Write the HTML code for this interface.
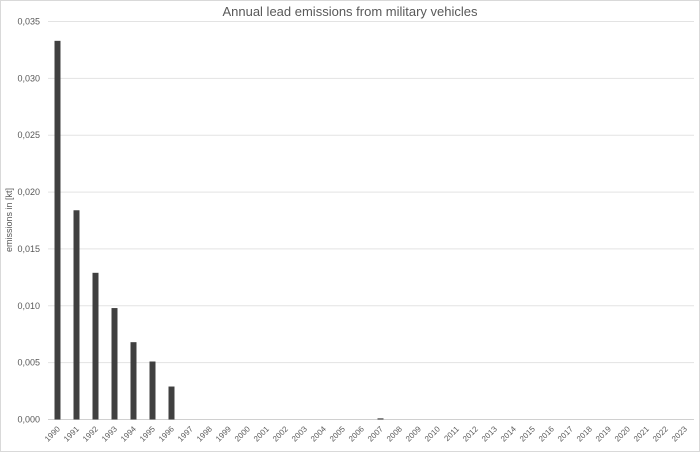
<!DOCTYPE html>
<html><head><meta charset="utf-8"><style>
html,body{margin:0;padding:0;background:#fff;}
svg{display:block;font-family:"Liberation Sans",sans-serif;}
</style></head><body>
<svg id="chart" width="700" height="452">
<rect x="0.5" y="0.5" width="699" height="451" fill="#fff" stroke="#d9d9d9"/>
<text x="350" y="16" text-anchor="middle" font-size="13" fill="#595959">Annual lead emissions from military vehicles</text>
<text transform="translate(12,220) rotate(-90)" text-anchor="middle" font-size="9" fill="#595959">emissions in [kt]</text>
<g id="grid"></g><g id="bars"></g><g id="xlabels"></g>
</svg>
<script>
const categories=[];for(let y=1990;y<=2023;y++)categories.push(String(y));
const values=[0.0333,0.0184,0.0129,0.0098,0.0068,0.0051,0.0029,0,0,0,0,0,0,0,0,0,0,0.0001,0,0,0,0,0,0,0,0,0,0,0,0,0,0,0,0];
const yTicks=[0,0.005,0.010,0.015,0.020,0.025,0.030,0.035];
const yTickLabels=["0,000","0,005","0,010","0,015","0,020","0,025","0,030","0,035"];
const ns="http://www.w3.org/2000/svg";
const L=48,R=694,T=21.5,B=419.5,yMax=0.035;
const bw=(R-L)/categories.length;
const yS=v=>B-(v/yMax)*(B-T);
const xS=i=>L+bw*(i+0.5);
const grid=document.getElementById('grid'),bars=document.getElementById('bars'),xl=document.getElementById('xlabels');
yTicks.forEach((t,i)=>{
 const ln=document.createElementNS(ns,'line');
 ln.setAttribute('x1',L);ln.setAttribute('x2',R);ln.setAttribute('y1',yS(t));ln.setAttribute('y2',yS(t));
 ln.setAttribute('stroke',i===0?'#d0d0d0':'#e3e3e3');ln.setAttribute('stroke-width','1');
 
 
 grid.appendChild(ln);
 const tx=document.createElementNS(ns,'text');
 tx.setAttribute('x',40);tx.setAttribute('y',yS(t)+3);tx.setAttribute('text-anchor','end');
 tx.setAttribute('font-size','9');tx.setAttribute('fill','#595959');tx.textContent=yTickLabels[i];
 
 
 grid.appendChild(tx);
});
categories.forEach((c,i)=>{
 const v=values[i];
 if(v>0){
  const r=document.createElementNS(ns,'rect');
  const h=Math.max(1,B-yS(v));
  r.setAttribute('x',xS(i)-3);r.setAttribute('width',6);r.setAttribute('y',B-h);r.setAttribute('height',h);
  r.setAttribute('fill','#404040');
  
  
  bars.appendChild(r);
 }
 const tx=document.createElementNS(ns,'text');
 const x=xS(i)+3,y=B+10;
 tx.setAttribute('x',x);tx.setAttribute('y',y);tx.setAttribute('text-anchor','end');
 tx.setAttribute('transform','rotate(-45 '+x+' '+y+')');
 tx.setAttribute('font-size','8');tx.setAttribute('fill','#595959');tx.textContent=c;
 
 
 xl.appendChild(tx);
});
</script>
</body></html>
